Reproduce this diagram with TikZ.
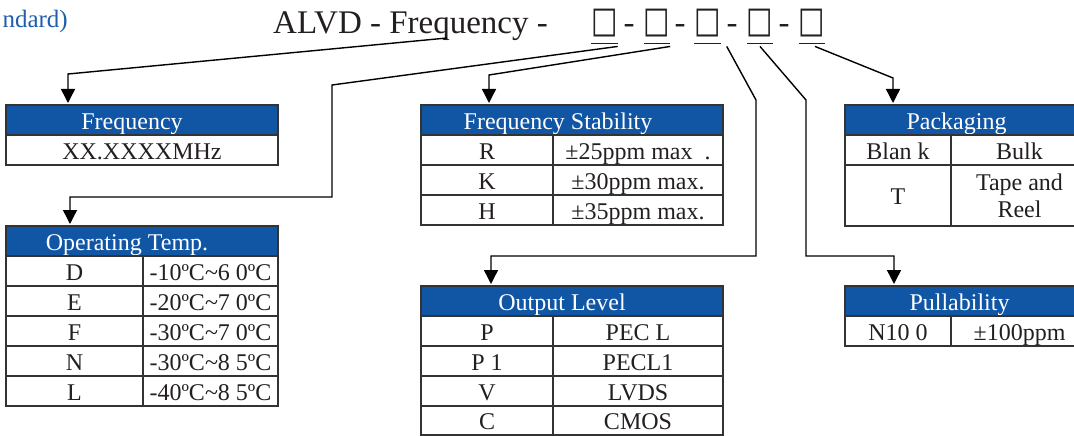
\documentclass[tikz,border=0pt]{standalone}
\usepackage{fontspec}
\setmainfont{Liberation Serif}
\newfontfamily\dejavu{DejaVu Sans}
\usetikzlibrary{arrows.meta,calc}
\definecolor{hdrblue}{HTML}{1156A5}
\definecolor{bordercol}{HTML}{333333}
\definecolor{txtcol}{HTML}{231F20}
\definecolor{stdblue}{HTML}{1F5DAD}
\begin{document}
\begin{tikzpicture}[x=1pt,y=-1pt,
  cellbase/.style={draw=bordercol, line width=1.8pt, minimum height=30pt, inner sep=0pt, outer sep=0pt, anchor=north west, text=txtcol, font=\fontsize{24}{27}\selectfont},
  cell/.style={cellbase, text height=18pt, text depth=0pt},
  head/.style={cell, fill=hdrblue, text=white},
  conn/.style={draw=black, line width=1.4pt},
  arr/.style={conn, -{Triangle[width=14pt,length=14pt]}, shorten >=2pt},
  uline/.style={draw=txtcol, line width=1.4pt},
  boxg/.style={inner sep=0pt, outer sep=0pt, minimum width=18pt, minimum height=23pt, text=txtcol},
  titletext/.style={inner sep=0pt, font=\fontsize{33}{33}\selectfont, text=txtcol}
]
\useasboundingbox (0,0) rectangle (1074,436);

% ---- title line ----
\node[inner sep=0pt, anchor=base east, font=\fontsize{25}{25}\selectfont, text=stdblue] (std) at (68,28) {ndard)};
\node[titletext, anchor=base west] (ttl) at (273,34) {ALVD - Frequency -};
\foreach \n/\x in {1/604.5,2/657,3/707.5,4/760,5/812}{
  \node[boxg] (b\n) at (\x,23.5) {\dejavu\fontsize{28}{28}\selectfont\scalebox{1}[1.3]{□}};
  \draw[uline] ([yshift=-6pt]b\n.south west) -- ([yshift=-6pt]b\n.south east);
}
\foreach \n/\x in {1/629,2/680,3/732,4/784}{
  \node[titletext, anchor=base] (d\n) at (\x,34) {-};
}
\coordinate (fq) at (447,38);

% ---- Frequency ----
\node[head, minimum width=272pt] (fH) at (6,105) {Frequency\hspace*{20pt}};
\node[cell, minimum width=272pt] (f1) at (6,135) {XX.XXXXMHz};

% ---- Operating Temp ----
\node[head, minimum width=272pt] (tH) at (6,226) {Operating Temp.\hspace*{30pt}};
\foreach \i/\a/\b in {0/D/-10ºC\textasciitilde6 0ºC,1/E/-20ºC\textasciitilde7 0ºC,2/F/-30ºC\textasciitilde7 0ºC,3/N/-30ºC\textasciitilde8 5ºC,4/L/-40ºC\textasciitilde8 5ºC}{
  \node[cell, minimum width=137pt] (tL\i) at (6,256+30*\i) {\a};
  \node[cell, minimum width=135pt] (tR\i) at (143,256+30*\i) {\b};
}

% ---- Frequency Stability ----
\node[head, minimum width=302pt] (sH) at (421,105) {Frequency Stability\hspace*{28pt}};
\node[cell, minimum width=132pt] (sL0) at (421,135) {R};
\node[cell, minimum width=170pt] (sR0) at (553,135) {±25ppm max\ \ .};
\node[cell, minimum width=132pt] (sL1) at (421,165) {K};
\node[cell, minimum width=170pt] (sR1) at (553,165) {±30ppm max.};
\node[cell, minimum width=132pt] (sL2) at (421,195) {H};
\node[cell, minimum width=170pt] (sR2) at (553,195) {±35ppm max.};

% ---- Output Level ----
\node[head, minimum width=302pt] (oH) at (421,286) {Output Level\hspace*{20pt}};
\node[cell, minimum width=132pt] (oL0) at (421,316) {P};
\node[cell, minimum width=170pt] (oR0) at (553,316) {PEC L};
\node[cell, minimum width=132pt] (oL1) at (421,346) {P 1};
\node[cell, minimum width=170pt] (oR1) at (553,346) {PECL1};
\node[cell, minimum width=132pt] (oL2) at (421,376) {V};
\node[cell, minimum width=170pt] (oR2) at (553,376) {LVDS};
\node[cell, minimum width=132pt, minimum height=29pt] (oL3) at (421,406) {C};
\node[cell, minimum width=170pt, minimum height=29pt] (oR3) at (553,406) {CMOS};

% ---- Packaging ----
\node[head, minimum width=243pt] (kH) at (845,105) {Packaging\hspace*{20pt}};
\node[cell, minimum width=106pt] (kL0) at (845,135) {Blan k};
\node[cell, minimum width=137pt] (kR0) at (951,135) {Bulk};
\node[cell, minimum width=106pt, minimum height=61pt] (kL1) at (845,165) {T};
\node[cellbase, minimum width=137pt, minimum height=61pt, align=center] (kR1) at (951,165) {Tape and\\Reel};

% ---- Pullability ----
\node[head, minimum width=243pt] (pH) at (845,286) {Pullability\hspace*{14pt}};
\node[cell, minimum width=106pt] (pL0) at (845,316) {N10 0};
\node[cell, minimum width=137pt] (pR0) at (951,316) {±100ppm};

% ---- connectors ----
\draw[arr] (fq) -- (68,74) coordinate (e1) -- (e1 |- fH.north);
\draw[arr] ([yshift=-9pt]b1.south east) -- (332,85) -- (332,197) -- (70,197) coordinate (e2) -- (e2 |- tH.north);
\draw[arr] ([yshift=-9pt]b2.south east) -- (489,75) coordinate (e3) -- (e3 |- sH.north);
\draw[arr] ([xshift=6pt,yshift=-9pt]b3.south east) -- (756,100) -- (756,256) -- (491,256) coordinate (e4) -- (e4 |- oH.north);
\draw[arr] ([yshift=-9pt]b4.south) -- (806,100) -- (806,256) -- (894,256) coordinate (e5) -- (e5 |- pH.north);
\draw[arr] ([xshift=3pt,yshift=-9pt]b5.south) -- (893,78) coordinate (e6) -- (e6 |- kH.north);
\end{tikzpicture}
\end{document}
